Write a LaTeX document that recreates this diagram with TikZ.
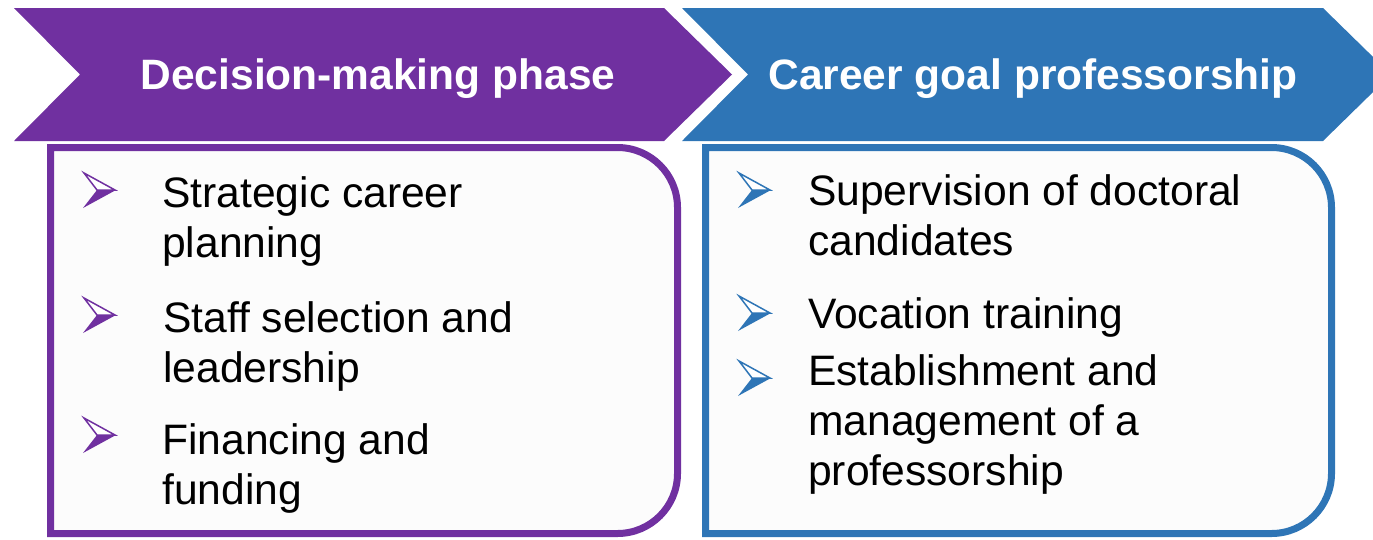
\documentclass[tikz,border=0pt]{standalone}
\usepackage{fontspec}
\setmainfont{Liberation Sans}
\definecolor{phasepurple}{RGB}{112,48,160}
\definecolor{goalblue}{RGB}{46,117,182}
\definecolor{boxfill}{RGB}{252,252,252}
\tikzset{
  chevtext/.style={text=white, font=\fontsize{42.5}{50}\selectfont\bfseries, anchor=base, inner sep=0pt},
  itemtext/.style={font=\fontsize{42.6}{50}\selectfont, align=left, anchor=base west, inner sep=0pt},
  boxline/.style={line width=7pt, fill=boxfill},
  arrowbullet/.pic={
    \draw[line width=1.5pt, fill=white] (-16,-17) -- (15,0) -- (-3,0) -- cycle;
    \fill (-3,0) -- (16,0) -- (-17,18) -- cycle;
  }
}
\begin{document}
\begin{tikzpicture}[x=1pt,y=-1pt]
            \useasboundingbox (0,0) rectangle (1373,539);
            \clip (0,0) rectangle (1373,539);

            \fill[phasepurple] (14,8) -- (664,8) -- (732,74.5) -- (664,141) -- (14,141) -- (80,74.5) -- cycle;
            \fill[goalblue] (682,8) -- (1323,8) -- (1391,74.5) -- (1323,141) -- (682,141) -- (748,74.5) -- cycle;

            \draw[boxline, draw=phasepurple] (50.5,533.5) -- (50.5,147.5) -- (617.5,147.5) .. controls (650.6,147.5) and (677.5,174.4) .. (677.5,207.5) -- (677.5,473.5) .. controls (677.5,506.6) and (650.6,533.5) .. (617.5,533.5) -- cycle;
            \draw[boxline, draw=goalblue] (705.5,533.5) -- (705.5,147.5) -- (1271.5,147.5) .. controls (1304.6,147.5) and (1331.5,174.4) .. (1331.5,207.5) -- (1331.5,473.5) .. controls (1331.5,506.6) and (1304.6,533.5) .. (1271.5,533.5) -- cycle;

            \node[chevtext] (decphase) at (378,89) {Decision-making phase};
            \node[chevtext] (careergoal) at (1033,89) {Career goal professorship};

            \node[itemtext] (stratplan) at (162,257) {Strategic career\\planning};
            \node[itemtext] (staffsel) at (163,382) {Staff selection and\\leadership};
            \node[itemtext] (finfund) at (162,504) {Financing and\\funding};
            \node[itemtext] (supdoc) at (808,255) {Supervision of doctoral\\candidates};
            \node[itemtext] (vocat) at (808,328) {Vocation training};
            \node[itemtext] (estprof) at (808,485) {Establishment and\\management of a\\professorship};

            \pic[phasepurple] at (100,190) {arrowbullet};
            \pic[phasepurple] at (100,315) {arrowbullet};
            \pic[phasepurple] at (100,435) {arrowbullet};
            \pic[goalblue] at (755,190) {arrowbullet};
            \pic[goalblue] at (755,313) {arrowbullet};
            \pic[goalblue] at (755,378) {arrowbullet};
        \end{tikzpicture}
\end{document}
